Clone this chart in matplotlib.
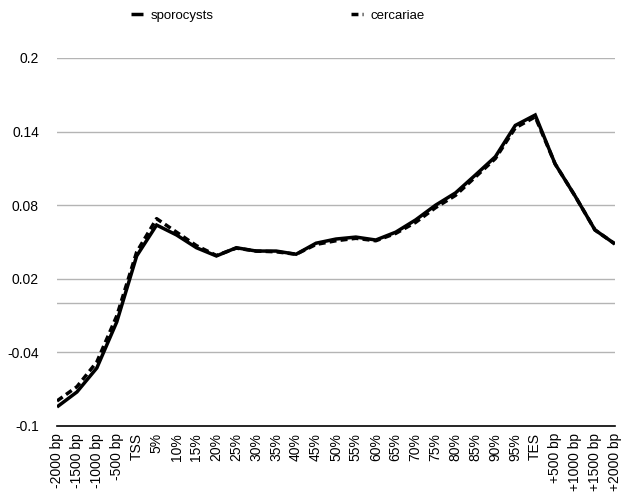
import matplotlib.pyplot as plt
import numpy as np

plt.rcParams['font.family'] = ['Liberation Sans', 'DejaVu Sans']

# Data
labels = ["-2000 bp", "-1500 bp", "-1000 bp", "-500 bp", "TSS",
          "5%", "10%", "15%", "20%", "25%", "30%", "35%", "40%", "45%",
          "50%", "55%", "60%", "65%", "70%", "75%", "80%", "85%", "90%",
          "95%", "TES", "+500 bp", "+1000 bp", "+1500 bp", "+2000 bp"]

sporocysts = [-0.0845, -0.0723, -0.0527, -0.0152, 0.0386, 0.0638, 0.0557,
              0.0453, 0.0386, 0.0453, 0.0426, 0.0426, 0.040, 0.049, 0.0524,
              0.054, 0.0516, 0.058, 0.068, 0.080, 0.090, 0.1046, 0.1195,
              0.145, 0.1535, 0.1136, 0.0875, 0.0598, 0.0484]

cercariae = [-0.0796, -0.068, -0.0478, -0.0103, 0.0418, 0.0690, 0.058,
             0.047, 0.039, 0.045, 0.0426, 0.042, 0.040, 0.048, 0.051,
             0.053, 0.051, 0.057, 0.066, 0.078, 0.088, 0.103, 0.118,
             0.143, 0.152, 0.1136, 0.0875, 0.0598, 0.0484]

yticks = [-0.1, -0.04, 0.02, 0.08, 0.14, 0.2]

x = np.arange(len(labels))

fig = plt.figure(figsize=(6.22, 4.98), dpi=100)
ax = fig.add_axes([0.0916, 0.1446, 0.897, 0.739])

# gridlines
for t in yticks[1:]:
    ax.axhline(t, color='#b4b4b4', lw=1, zorder=1)
ax.axhline(0, color='#b4b4b4', lw=1, zorder=1)

ax.plot(x, sporocysts, color='black', lw=2.5, solid_capstyle='butt',
        solid_joinstyle='miter', label='sporocysts', zorder=3)
ax.plot(x, cercariae, color='black', lw=2.5, linestyle=(0, (2, 1.2)),
        label='cercariae', zorder=4)

ax.set_xlim(0, len(labels) - 1)
ax.set_ylim(-0.1, 0.2)
ax.set_yticks(yticks)
ax.set_yticklabels(['-0.1', '-0.04', '0.02', '0.08', '0.14', '0.2'])
ax.set_xticks(x)
ax.set_xticklabels(labels, rotation=90)
ax.tick_params(length=0, labelsize=10)
ax.tick_params(axis='y', pad=13)
ax.tick_params(axis='x', pad=5)

for s in ['top', 'right', 'left']:
    ax.spines[s].set_visible(False)
ax.spines['bottom'].set_color('black')
ax.spines['bottom'].set_linewidth(1.2)

fig.legend(loc='upper center', bbox_to_anchor=(0.447, 1.005), ncol=2,
           frameon=False, handlelength=0.9, handletextpad=0.6,
           columnspacing=10.4, fontsize=9.5)

fig.savefig('out.png', dpi=100)
